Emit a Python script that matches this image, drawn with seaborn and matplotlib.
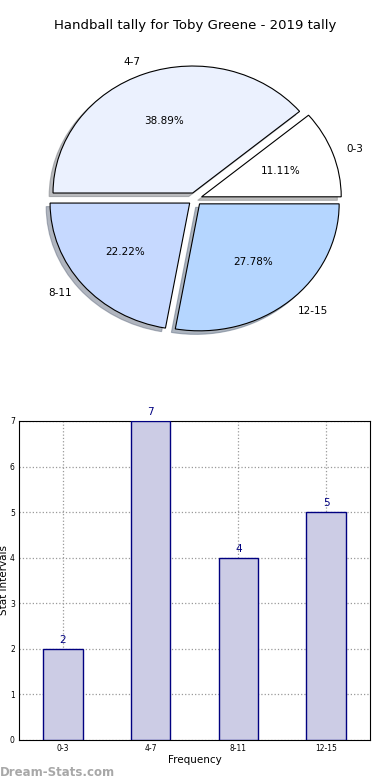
import matplotlib
matplotlib.use("Agg")
import matplotlib.pyplot as plt
import seaborn as sns
import pandas as pd

# data
intervals = ['0-3', '4-7', '8-11', '12-15']
counts = [2, 7, 4, 5]
pie_colors = ['#FFFFFF', '#EBF1FE', '#C6D9FF', '#B5D6FF']

sns.set_style("white")
plt.rcParams['font.family'] = ['DejaVu Sans']
plt.rcParams['text.color'] = 'black'
plt.rcParams['axes.labelcolor'] = 'black'
plt.rcParams['xtick.color'] = 'black'
plt.rcParams['ytick.color'] = 'black'

fig = plt.figure(figsize=(3.9, 7.8), dpi=100)

# pie chart
ax1 = fig.add_axes([0.0526, 0.5414, 0.895, 0.407])
ax1.pie(counts, labels=intervals, colors=pie_colors, autopct='%1.2f%%',
        explode=[0.05] * len(counts), shadow={'ox': -0.02, 'oy': -0.02, 'shade': 0.5},
        startangle=0,
        wedgeprops={'edgecolor': 'black', 'linewidth': 0.8},
        textprops={'fontsize': 7.5, 'color': 'black'})
ax1.set_aspect('auto')
ax1.set_xlim(-1.25, 1.25)
ax1.set_ylim(-1.25, 1.25)
ax1.set_title('Handball tally for Toby Greene - 2019 tally', fontsize=9.5, pad=8)

# bar chart
df = pd.DataFrame({'interval': intervals, 'count': counts})
ax2 = fig.add_axes([0.0487, 0.0513, 0.9, 0.409])
sns.barplot(data=df, x='interval', y='count', ax=ax2, color='#CCCCE5',
            edgecolor='#000080', linewidth=1, width=0.45, saturation=1, zorder=3)
ax2.set_xlim(-0.5, 3.5)
ax2.set_ylim(0, 7)
ax2.grid(True, linestyle=':', color='#999999', linewidth=0.9, zorder=0)
ax2.set_axisbelow(True)
for i, v in enumerate(counts):
    ax2.text(i, v + 0.08, str(v), ha='center', va='bottom', color='#000080', fontsize=7.5)
ax2.tick_params(axis='both', labelsize=5.5, direction='in', length=3, pad=3)
for s in ax2.spines.values():
    s.set_visible(True)
    s.set_color('black')
    s.set_linewidth(0.8)
ax2.set_xlabel('Frequency', fontsize=7.5, labelpad=1)
ax2.set_ylabel('Stat Intervals', fontsize=7.5, labelpad=1)

fig.text(0.0, 0.005, 'Dream-Stats.com', color='#A8A8A8', fontsize=8.5, fontweight='bold')

fig.savefig('out.png', dpi=100)
